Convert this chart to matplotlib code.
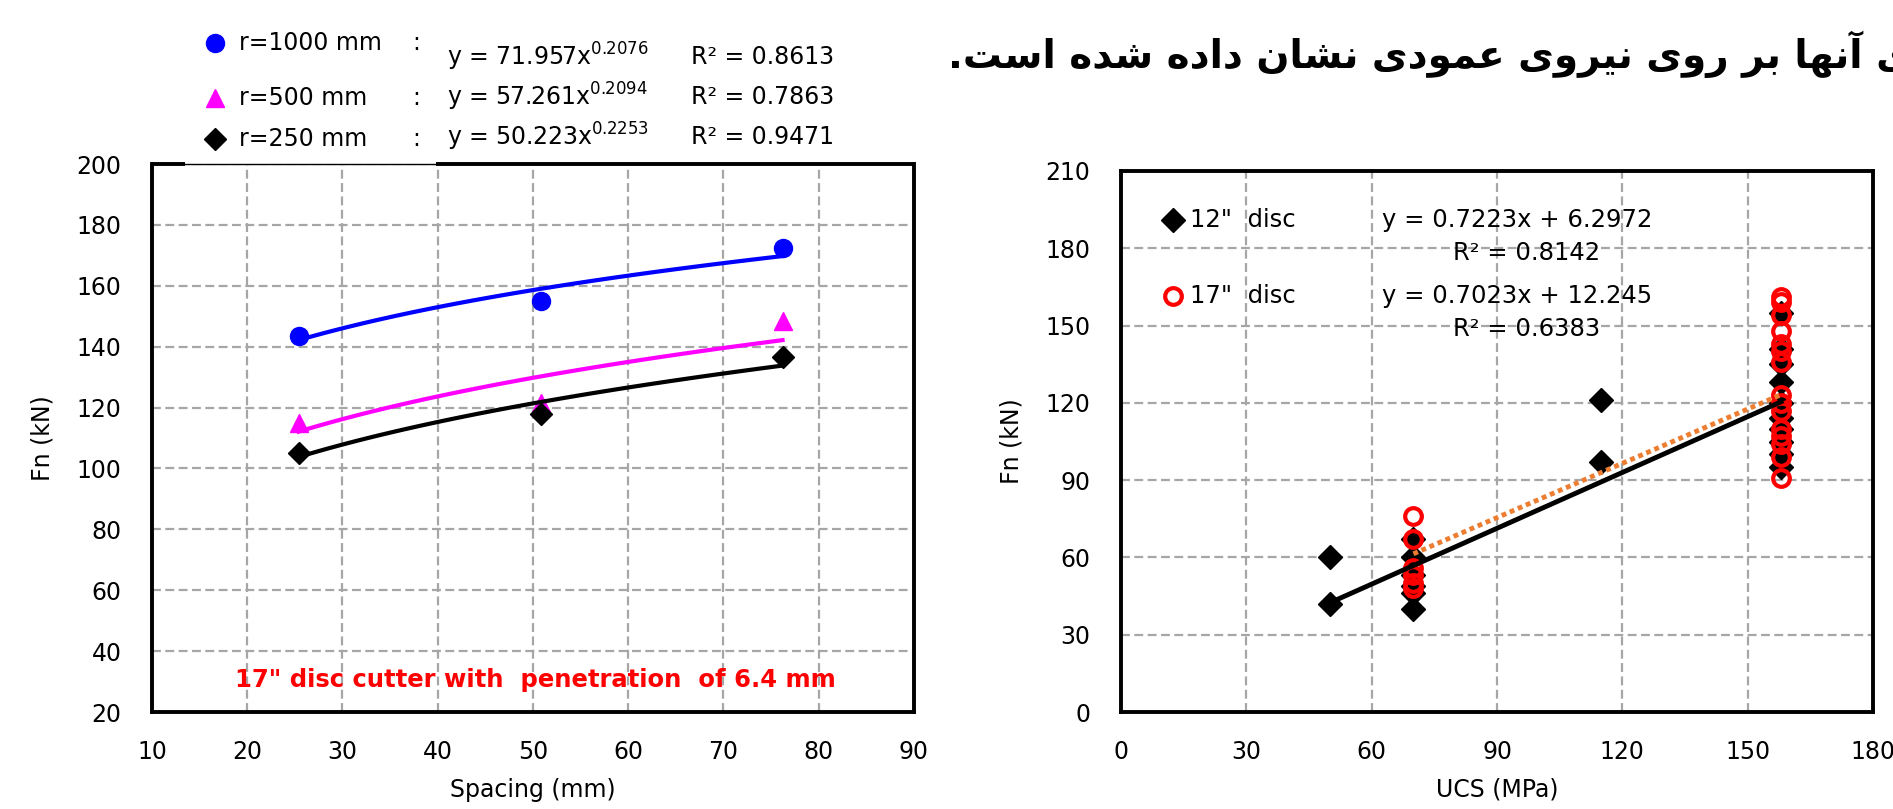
import numpy as np
import matplotlib
matplotlib.use("Agg")
import matplotlib.pyplot as plt

plt.rcParams["font.family"] = ["DejaVu Sans"]
plt.rcParams["mathtext.fontset"] = "dejavusans"

W, H = 1893, 809

# left chart: normal force vs spacing (17" disc, p = 6.4 mm)
spacing = [25.4, 50.8, 76.2]
fn_r1000 = [143.5, 155.0, 172.5]
fn_r500 = [115.0, 121.5, 148.5]
fn_r250 = [105.0, 118.0, 136.5]
radius_labels = ["r=1000 mm", "r=500 mm", "r=250 mm"]
power_eqs = ["y = 71.957x$^{0.2076}$", "y = 57.261x$^{0.2094}$", "y = 50.223x$^{0.2253}$"]
power_r2 = ["R² = 0.8613", "R² = 0.7863", "R² = 0.9471"]

# right chart: normal force vs UCS
ucs_12 = [50, 50, 70, 70, 70, 70, 70, 70, 115, 115,
          158, 158, 158, 158, 158, 158, 158, 158, 158, 158]
fn_12 = [60, 42, 40, 46, 49, 53, 60, 67, 121, 97,
         95, 100, 105, 110, 114, 120, 128, 135, 141, 155]
ucs_17 = [70, 70, 70, 70, 70, 70,
          158, 158, 158, 158, 158, 158, 158, 158, 158, 158, 158, 158, 158, 158, 158]
fn_17 = [76, 67, 56, 53, 50, 48,
         161, 159, 154, 148, 143, 140, 136, 123, 120, 117, 110, 107, 104, 99, 91]
lin_12 = (0.7223, 6.2972)
lin_17 = (0.7023, 12.245)

persian_line = "ی آنها بر روی نیروی عمودی نشان داده شده است."

# minimal persian shaping (matplotlib has no RTL / joining support)
DUAL = {
    "ب": "\ufe8f\ufe90\ufe91\ufe92", "ت": "\ufe95\ufe96\ufe97\ufe98",
    "س": "\ufeb1\ufeb2\ufeb3\ufeb4", "ش": "\ufeb5\ufeb6\ufeb7\ufeb8",
    "ع": "\ufec9\ufeca\ufecb\ufecc", "م": "\ufee1\ufee2\ufee3\ufee4",
    "ن": "\ufee5\ufee6\ufee7\ufee8", "ه": "\ufee9\ufeea\ufeeb\ufeec",
    "ی": "\ufeef\ufef0\ufef3\ufef4",
}
RIGHT = {"ا": "\ufe8d\ufe8e", "آ": "\ufe81\ufe82", "د": "\ufea9\ufeaa",
         "ر": "\ufead\ufeae", "و": "\ufeed\ufeee"}


def shape_fa(s):
    out = []
    for i, ch in enumerate(s):
        prev = s[i - 1] if i > 0 else ""
        nxt = s[i + 1] if i < len(s) - 1 else ""
        if ch in DUAL:
            f = DUAL[ch]
            a = prev in DUAL
            b = nxt in DUAL or nxt in RIGHT
            out.append(f[3] if a and b else f[1] if a else f[2] if b else f[0])
        elif ch in RIGHT:
            f = RIGHT[ch]
            out.append(f[1] if prev in DUAL else f[0])
        else:
            out.append(ch)
    return "".join(reversed(out))


def fx(x):
    return x / W


def fy(y):
    return 1 - y / H


def style_axes(ax, xlim, ylim, xticks, yticks):
    ax.set_xlim(*xlim)
    ax.set_ylim(*ylim)
    ax.set_xticks(xticks)
    ax.set_yticks(yticks)
    ax.tick_params(length=0, labelsize=17, pad=22)
    ax.tick_params(axis="x", pad=20)
    for s in ax.spines.values():
        s.set_linewidth(2.8)
        s.set_color("black")
    ax.grid(True, color="#a6a6a6", linestyle=(0, (4, 2)), linewidth=1.6)
    ax.set_axisbelow(True)


def place_labels(ax, xl, yl, x_off, y_off):
    ax.set_xlabel(xl, fontsize=17, va="center")
    ax.set_ylabel(yl, fontsize=17, va="center")
    ax.xaxis.set_label_coords(0.5, x_off)
    ax.yaxis.set_label_coords(y_off, 0.5)


fig = plt.figure(figsize=(W / 100, H / 100), dpi=100)

# ---------- left chart ----------
ax1 = fig.add_axes([fx(152), fy(712), fx(914 - 152), (712 - 164) / H])
style_axes(ax1, (10, 90), (20, 200), range(10, 91, 10), range(20, 201, 20))

series = [(fn_r1000, "#0000ff", "o", 13), (fn_r500, "#ff00ff", "^", 13), (fn_r250, "black", "D", 11)]
xs = np.array(spacing)
xfit = np.linspace(xs.min(), xs.max(), 60)
for vals, c, m, ms in series:
    ax1.plot(spacing, vals, m, color=c, ms=ms, zorder=3)
    b, a = np.polyfit(np.log(xs), np.log(vals), 1)
    ax1.plot(xfit, np.exp(a) * xfit ** b, color=c, lw=3, zorder=4)

ax1.text(50.3, 30.5, "17\" disc cutter with  penetration  of 6.4 mm", color="red",
         fontsize=17.5, fontweight="bold", ha="center", va="center")
place_labels(ax1, "Spacing (mm)", "Fn (kN)", (712 - 790) / 548, (42 - 152) / 762)

# top frame partly thinned where the legend box sat over it
ax1.spines["top"].set_visible(False)
gap0, gap1 = (185 - 152) / 762, (436 - 152) / 762
ax1.plot([0, gap0], [1, 1], color="black", lw=2.8, transform=ax1.transAxes, clip_on=False,
         solid_capstyle="butt")
ax1.plot([gap0, gap1], [1, 1], color="black", lw=1.0, transform=ax1.transAxes, clip_on=False)
ax1.plot([gap1, 1.0018], [1, 1], color="black", lw=2.8, transform=ax1.transAxes, clip_on=False,
         solid_capstyle="butt")

# legend above the left chart
rows_y = [43, 98, 139]
eq_y = [57, 97, 137]
for i, (lab, (vals, c, m, ms)) in enumerate(zip(radius_labels, series)):
    ax1.plot([fx(215)], [fy(rows_y[i])], m, color=c, ms=ms, transform=fig.transFigure, clip_on=False)
    fig.text(fx(239), fy(rows_y[i]), lab, fontsize=17, va="center")
    fig.text(fx(412), fy(rows_y[i]), ":", fontsize=17, va="center")
    fig.text(fx(447), fy(eq_y[i]), power_eqs[i], fontsize=17, va="center")
    fig.text(fx(691), fy(eq_y[i]), power_r2[i], fontsize=17, va="center")

# ---------- right chart ----------
ax2 = fig.add_axes([fx(1121), fy(712), fx(1873 - 1121), (712 - 171) / H])
style_axes(ax2, (0, 180), (0, 210), range(0, 181, 30), range(0, 211, 30))

ax2.plot(ucs_12, fn_12, "D", color="black", ms=12, zorder=3)
ax2.plot(ucs_17, fn_17, "o", mfc="none", mec="#ff0000", mew=3, ms=12, zorder=3)
x12 = np.array([min(ucs_12), max(ucs_12)])
x17 = np.array([min(ucs_17), max(ucs_17)])
ax2.plot(x17, lin_17[0] * x17 + lin_17[1], color="#ed7d31", lw=3.5, ls=(0, (1, 0.8)), zorder=4)
ax2.plot(x12, lin_12[0] * x12 + lin_12[1], color="black", lw=3.5, zorder=5)

ax2.plot([12.5], [191], "D", color="black", ms=12)
ax2.plot([12.5], [161.5], "o", mfc="none", mec="#ff0000", mew=3, ms=12)
ax2.text(16.5, 191, "12\"  disc", fontsize=17.5, va="center")
ax2.text(16.5, 161.5, "17\"  disc", fontsize=17.5, va="center")
ax2.text(62.5, 191, "y = 0.7223x + 6.2972", fontsize=17.5, va="center")
ax2.text(97, 178, "R² = 0.8142", fontsize=17.5, va="center", ha="center")
ax2.text(62.5, 161.5, "y = 0.7023x + 12.245", fontsize=17.5, va="center")
ax2.text(97, 148.5, "R² = 0.6383", fontsize=17.5, va="center", ha="center")
place_labels(ax2, "UCS (MPa)", "Fn (kN)", (712 - 790) / 541, (1012 - 1121) / 752)

# persian caption line at top right
fig.text(fx(948), fy(54), shape_fa(persian_line), fontsize=28, fontweight="bold",
         ha="left", va="center")

fig.savefig("out.png", dpi=100)
